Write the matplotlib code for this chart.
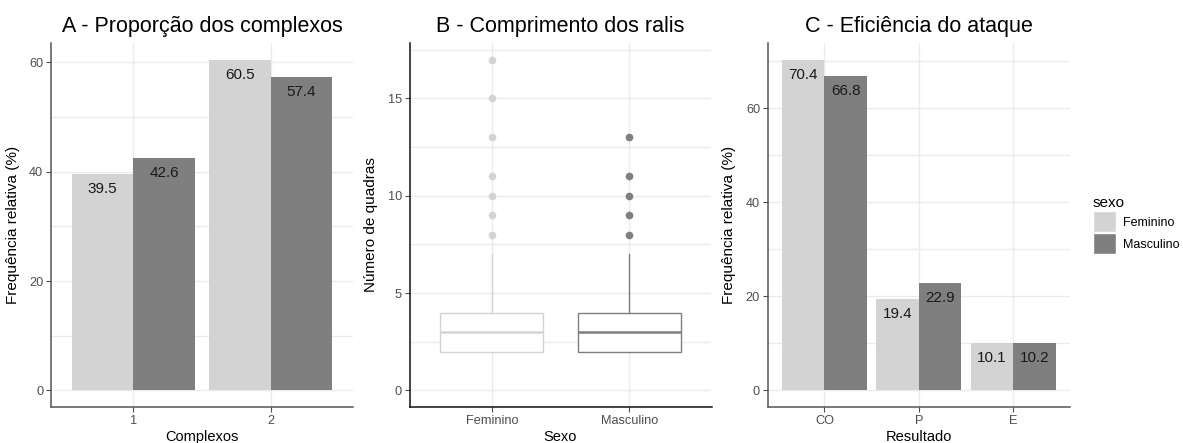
import matplotlib
matplotlib.use("Agg")
import matplotlib.pyplot as plt
from matplotlib.patches import Patch
import numpy as np

plt.rcParams['font.family'] = ['Liberation Sans', 'DejaVu Sans']

# ---------------- data ----------------
sexes = ["Feminino", "Masculino"]
colors = {"Feminino": "#D3D3D3", "Masculino": "#7F7F7F"}

complexos = ["1", "2"]
comp_fem = [39.5, 60.5]
comp_masc = [42.6, 57.4]

box_q1 = [2, 2]
box_med = [3, 3]
box_q3 = [4, 4]
box_whislo = [2, 2]
box_whishi = [7, 7]
box_out_fem = [8, 9, 10, 11, 13, 15, 17]
box_out_masc = [8, 9, 10, 11, 13]

resultados = ["CO", "P", "E"]
res_fem = [70.4, 19.4, 10.1]
res_masc = [66.8, 22.9, 10.2]

# ---------------- layout ----------------
W, H = 1183, 443
fig = plt.figure(figsize=(W / 100, H / 100), dpi=100)

def ax_at(left, right, top=43, bottom=407):
    return fig.add_axes([left / W, (H - bottom) / H, (right - left) / W, (bottom - top) / H])

GRID = "#EBEBEB"
TICKC = "#4D4D4D"

def style(ax, axcol):
    for s in ["top", "right"]:
        ax.spines[s].set_visible(False)
    for s in ["left", "bottom"]:
        ax.spines[s].set_color(axcol)
        ax.spines[s].set_linewidth(1.1)
    ax.tick_params(axis="both", colors=TICKC, labelsize=9.2, length=3.5, width=0.8, pad=2)
    ax.grid(True, which="major", color=GRID, linewidth=1.0)
    ax.grid(True, which="minor", axis="y", color=GRID, linewidth=1.0)
    ax.tick_params(axis="y", which="minor", length=0)
    ax.set_axisbelow(True)

def bar_panel(ax, cats, fem, masc, ylim, major, minor):
    x = np.arange(1, len(cats) + 1)
    w = 0.45
    b1 = ax.bar(x - w / 2, fem, width=w, color=colors["Feminino"], linewidth=0)
    b2 = ax.bar(x + w / 2, masc, width=w, color=colors["Masculino"], linewidth=0)
    for bars, vals in ((b1, fem), (b2, masc)):
        for b, v in zip(bars, vals):
            ax.annotate(f"{v:.1f}", (b.get_x() + b.get_width() / 2, v),
                        xytext=(0, -15), textcoords="offset pixels",
                        ha="center", va="center", fontsize=11, color="#1A1A1A")
    ax.set_xlim(0.4, len(cats) + 0.6)
    ax.set_ylim(*ylim)
    ax.set_xticks(x)
    ax.set_xticklabels(cats)
    ax.set_yticks(major)
    ax.set_yticks(minor, minor=True)

XLAB_Y = -0.064
XLAB_FS = 10.5

# Panel A
axA = ax_at(51, 353)
bar_panel(axA, complexos, comp_fem, comp_masc, (-3.03, 63.55), [0, 20, 40, 60], [10, 30, 50])
style(axA, "#555555")
axA.set_title("A - Proporção dos complexos", fontsize=15.5, pad=8)
axA.set_ylabel("Frequência relativa (%)", fontsize=11)
axA.set_xlabel("Complexos", fontsize=XLAB_FS)
axA.yaxis.set_label_coords(-0.103, 0.5)
axA.xaxis.set_label_coords(0.5, XLAB_Y)

# Panel B
axB = ax_at(409.5, 711.5)
stats = []
outs = [box_out_fem, box_out_masc]
for i, s in enumerate(sexes):
    stats.append(dict(med=box_med[i], q1=box_q1[i], q3=box_q3[i],
                      whislo=box_whislo[i], whishi=box_whishi[i],
                      fliers=outs[i], label=s))
for i, s in enumerate(sexes):
    c = colors[s]
    axB.bxp([stats[i]], positions=[i + 1], widths=0.75, patch_artist=True,
            showcaps=False,
            boxprops=dict(facecolor="white", edgecolor=c, linewidth=1.0),
            medianprops=dict(color=c, linewidth=1.8),
            whiskerprops=dict(color=c, linewidth=1.0),
            flierprops=dict(marker="o", markerfacecolor=c, markeredgecolor=c, markersize=4.5))
axB.set_xlim(0.4, 2.6)
axB.set_ylim(-0.85, 17.85)
axB.set_xticks([1, 2])
axB.set_xticklabels(sexes)
axB.set_yticks([0, 5, 10, 15])
axB.set_yticks([2.5, 7.5, 12.5, 17.5], minor=True)
style(axB, "#111111")
axB.set_title("B - Comprimento dos ralis", fontsize=15.5, pad=8)
axB.set_ylabel("Número de quadras", fontsize=11)
axB.set_xlabel("Sexo", fontsize=XLAB_FS)
axB.yaxis.set_label_coords((378 - 409.5) / 302, 0.5)
axB.xaxis.set_label_coords(0.5, XLAB_Y)

# Panel C
axC = ax_at(767.7, 1070)
bar_panel(axC, resultados, res_fem, res_masc, (-3.52, 73.92), [0, 20, 40, 60], [10, 30, 50, 70])
style(axC, "#555555")
axC.set_title("C - Eficiência do ataque", fontsize=15.5, pad=8)
axC.set_ylabel("Frequência relativa (%)", fontsize=11)
axC.set_xlabel("Resultado", fontsize=XLAB_FS)
axC.yaxis.set_label_coords((735.7 - 767.7) / 302.3, 0.5)
axC.xaxis.set_label_coords(0.5, XLAB_Y)

# Legend
handles = [Patch(facecolor=colors[s], edgecolor="white", label=s) for s in sexes]
leg = fig.legend(handles=handles, title="sexo", loc="upper left",
                 bbox_to_anchor=(1083 / W, 1 - 186 / H), frameon=False,
                 fontsize=9, title_fontsize=11, handlelength=1.8, handleheight=2.2,
                 handletextpad=0.6, labelspacing=0.1, alignment="left",
                 borderpad=0.3)

fig.savefig("out.png", dpi=100)
